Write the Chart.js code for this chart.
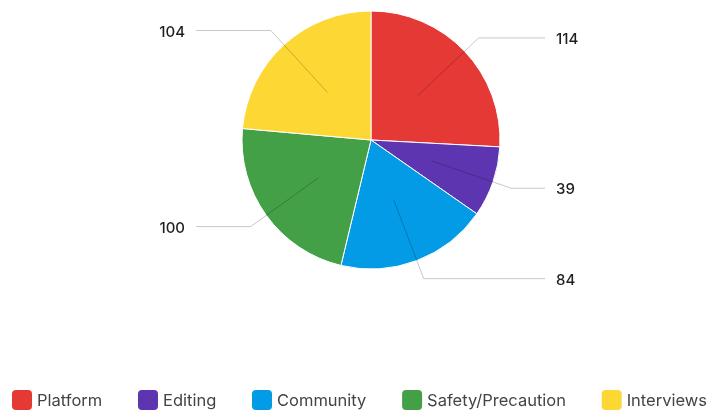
<!DOCTYPE html>
<html>
<head>
<meta charset="utf-8">
<script src="https://cdn.jsdelivr.net/npm/chart.js@4/dist/chart.umd.min.js"></script>
<style>
html,body{margin:0;padding:0;background:#fff;}
#wrap{width:710px;height:413px;position:relative;}
</style>
</head>
<body>
<div id="wrap"><canvas id="c" width="710" height="413"></canvas></div>
<script>
const categories = ['Platform', 'Editing', 'Community', 'Safety/Precaution', 'Interviews'];
const values = [114, 39, 84, 100, 104];
const colors = ['#E53935', '#5E35B1', '#039BE5', '#43A047', '#FDD835'];

const FONT = 'Inter, "Noto Sans", sans-serif';

const leaderLabels = {
  id: 'leaderLabels',
  afterDatasetsDraw(chart) {
    const ctx = chart.ctx;
    const meta = chart.getDatasetMeta(0);
    ctx.save();
    meta.data.forEach((arc, i) => {
      const p = arc.getProps(['x', 'y', 'startAngle', 'endAngle', 'outerRadius'], true);
      const mid = (p.startAngle + p.endAngle) / 2;
      const r = p.outerRadius;
      const cos = Math.cos(mid), sin = Math.sin(mid);
      const x0 = p.x + cos * r * 0.5, y0 = p.y + sin * r * 0.5;
      const x1 = p.x + cos * r * 1.15, y1 = p.y + sin * r * 1.15;
      const right = cos >= 0;
      const x2 = right ? p.x + 174 : p.x - 175;
      ctx.beginPath();
      ctx.moveTo(x0, y0);
      ctx.lineTo(x1, y1);
      ctx.lineTo(x2, y1);
      ctx.strokeStyle = 'rgba(0,0,0,0.22)';
      ctx.lineWidth = 1;
      ctx.stroke();
      ctx.fillStyle = '#1f1f1f';
      ctx.font = '500 15px ' + FONT;
      ctx.textBaseline = 'middle';
      ctx.textAlign = right ? 'left' : 'right';
      ctx.fillText(String(values[i]), right ? x2 + 11 : x2 - 11, y1 + 1.5);
    });
    ctx.restore();
  }
};

const customLegend = {
  id: 'customLegend',
  afterDraw(chart) {
    const ctx = chart.ctx;
    ctx.save();
    ctx.font = '16.5px ' + FONT;
    const boxSize = 20, textGap = 5;
    const widths = categories.map(c => boxSize + textGap + ctx.measureText(c).width);
    const startX = 12, endX = 707;
    const total = widths.reduce((a, b) => a + b, 0);
    const gap = (endX - startX - total) / (categories.length - 1);
    const cy = 400;
    let x = startX;
    categories.forEach((c, i) => {
      ctx.fillStyle = colors[i];
      ctx.beginPath();
      ctx.roundRect(x, cy - boxSize / 2, boxSize, boxSize, 4);
      ctx.fill();
      ctx.fillStyle = '#444';
      ctx.textAlign = 'left';
      ctx.textBaseline = 'middle';
      ctx.fillText(c, x + boxSize + textGap, cy + 1);
      x += widths[i] + gap;
    });
    ctx.restore();
  }
};

new Chart(document.getElementById('c'), {
  type: 'pie',
  data: {
    labels: categories,
    datasets: [{
      data: values,
      backgroundColor: colors,
      borderColor: '#ffffff',
      borderWidth: 1,
      hoverOffset: 0
    }]
  },
  options: {
    responsive: false,
    animation: false,
    radius: 129,
    layout: { padding: { left: 32, right: 0, top: 10, bottom: 143 } },
    plugins: {
      tooltip: { enabled: false },
      legend: { display: false }
    }
  },
  plugins: [leaderLabels, customLegend]
});
</script>
</body>
</html>
